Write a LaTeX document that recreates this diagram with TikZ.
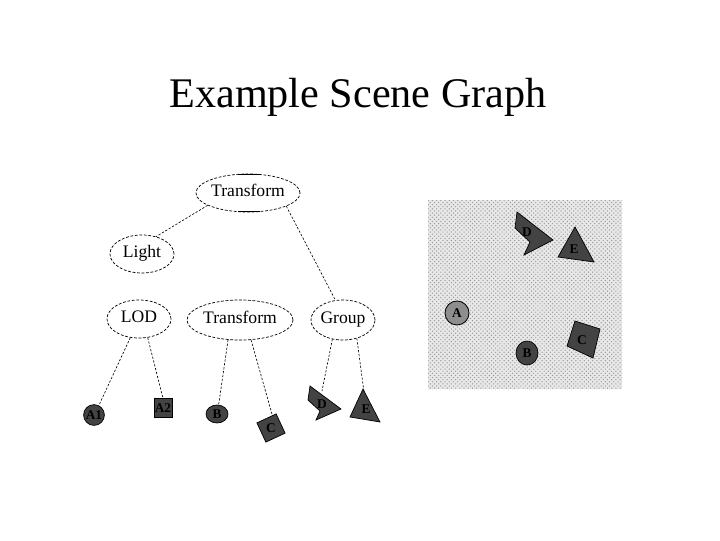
\documentclass[tikz,border=0pt]{standalone}
\usepackage{fontspec}
\setmainfont{Liberation Serif}
\usetikzlibrary{shapes.geometric,patterns,calc}
\definecolor{leafgray}{HTML}{434343}
\definecolor{agray}{HTML}{8E8E8E}
\tikzset{
  gnode/.style={ellipse, draw=black, line width=0.5pt, dash pattern=on 2pt off 1.2pt,
                inner sep=0pt, text height=1.6ex, text depth=0.4ex,
                font=\fontsize{12.5}{14}\selectfont},
  link/.style={draw=black, line width=0.45pt, dash pattern=on 1.6pt off 1.2pt},
  leaf/.style={fill=leafgray, draw=black, line width=0.5pt},
  leaflbl/.style={font=\bfseries\fontsize{9.5}{10}\selectfont, text=black, inner sep=0pt},
}
\begin{document}
\begin{tikzpicture}[x=0.025cm, y=-0.025cm]
\useasboundingbox (0,0) rectangle (720,540);

% title
\node[anchor=base, font=\fontsize{30}{34}\selectfont, inner sep=0pt] (title) at (358,107) {Example Scene Graph};

% graph nodes
\node[gnode, minimum width=2.6cm, minimum height=0.95cm] (T1) at (248,193) {Transform};
\node[gnode, minimum width=1.6cm, minimum height=0.95cm] (L) at (142,254) {Light};
\node[gnode, minimum width=1.6cm, minimum height=0.95cm] (LOD) at (139,319) {LOD};
\node[gnode, minimum width=2.65cm, minimum height=1.0cm] (T2) at (240,320) {Transform};
\node[gnode, minimum width=1.6cm, minimum height=1.0cm] (G) at (343,320) {Group};
% merged solid arcs on top transform
\draw[line width=0.7pt] (238,174.3) -- (260,174.3) (238,211.7) -- (260,211.7);

% leaves of scene graph
\node[circle, leaf, minimum size=0.52cm, inner sep=0pt] (A1) at (94,415) {};
\node[leaflbl] at (A1) {A1};
\node[rectangle, leaf, minimum width=0.45cm, minimum height=0.47cm, inner sep=0pt] (A2) at (163,408) {};
\node[leaflbl] at (A2) {A2};
\node[ellipse, leaf, minimum width=0.55cm, minimum height=0.45cm, inner sep=0pt] (B) at (217,414) {};
\node[leaflbl] at (B) {B};
\node[rectangle, leaf, rotate=25, minimum size=0.53cm, inner sep=0pt] (C) at (271,428) {};
\node[leaflbl] at (C) {C};
\filldraw[leaf] (310,386) -- (341,409) -- (316,420) -- (320,411) -- (308,400) -- cycle;
\node[leaflbl] (Dl) at (322,404) {D};
\coordinate (Dt) at (322,391);
\filldraw[leaf] (363,389) -- (380,422) -- (350,417) -- cycle;
\node[leaflbl] (El) at (366,409) {E};
\coordinate (Et) at (364,392);

% connectors
\draw[link] (T1.197) -- (L.51);
\draw[link] (T1.341) -- (G.111);
\draw[link] (LOD.245) -- (A1.63);
\draw[link] (LOD.295) -- (A2.north);
\draw[link] (T2.239) -- (B.80);
\draw[link] (T2.299) -- ($(C.north)!0.6!(C.north east)$);
\draw[link] (G.241) -- (Dt);
\draw[link] (G.307) -- (Et);

% scene picture
\fill[gray!18] (428,200) rectangle (622,389);
\fill[pattern=crosshatch dots, pattern color=gray!80] (428,200) rectangle (622,389);
\filldraw[leaf] (517,212) -- (553,240) -- (524,255) -- (530,242) -- (515,228) -- cycle;
\node[leaflbl] at (527,232) {D};
\filldraw[leaf] (575,227) -- (594,262) -- (558,257) -- cycle;
\node[leaflbl] at (574,249) {E};
\node[circle, fill=agray, draw=black, line width=0.6pt, minimum size=0.6cm, inner sep=0pt] (SA) at (457,313) {};
\node[leaflbl] at (SA) {A};
\filldraw[leaf] (575,321) -- (600,329) -- (593,358) -- (567,346) -- cycle;
\node[leaflbl] at (582,340) {C};
\node[ellipse, leaf, minimum width=0.55cm, minimum height=0.6cm, inner sep=0pt] (SB) at (527,353) {};
\node[leaflbl] at (SB) {B};
\end{tikzpicture}
\end{document}
